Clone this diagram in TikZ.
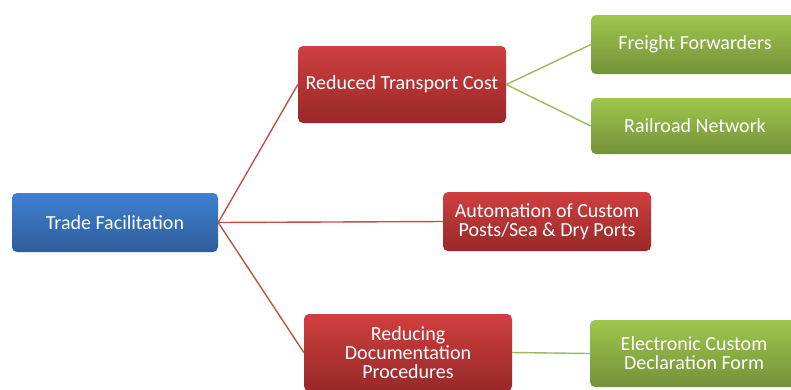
\documentclass[tikz,border=0pt]{standalone}
\usepackage{fontspec}
\setmainfont{Carlito}
\definecolor{bluetop}{HTML}{3F80D0}
\definecolor{bluebot}{HTML}{2D5D9B}
\definecolor{redtop}{HTML}{D03F3F}
\definecolor{redbot}{HTML}{982828}
\definecolor{greentop}{HTML}{9EC74C}
\definecolor{greenbot}{HTML}{74913A}
\definecolor{redline}{HTML}{C0504D}
\definecolor{greenline}{HTML}{9BBB59}
\tikzset{
  box/.style={rectangle, rounded corners=5pt, text=white, align=center,
    font=\fontsize{20}{19.2}\selectfont, inner sep=2pt, draw=none},
  bluebox/.style={box, top color=bluetop, bottom color=bluebot},
  redbox/.style={box, top color=redtop, bottom color=redbot},
  greenbox/.style={box, top color=greentop, bottom color=greenbot},
  redlink/.style={draw=redline, line width=1.4pt},
  greenlink/.style={draw=greenline, line width=1.4pt},
}
\begin{document}
\begin{tikzpicture}[x=1pt,y=-1pt]
\useasboundingbox (0,0) rectangle (791,389);
\clip (0,0) rectangle (791,389);
\fill[white] (0,0) rectangle (791,389);
\node[bluebox, minimum width=206pt, minimum height=59pt] (tf) at (115,222.5) {Trade Facilitation};
\node[redbox, minimum width=208pt, minimum height=77pt] (rtc) at (402,84.5) {Reduced Transport Cost};
\node[redbox, minimum width=208pt, minimum height=59pt] (auto) at (547,221.5) {Automation of Custom\\Posts/Sea \& Dry Ports};
\node[redbox, minimum width=208pt, minimum height=77pt] (rdp) at (408,352.5) {Reducing\\Documentation\\Procedures};
\node[greenbox, minimum width=208pt, minimum height=59pt] (ff) at (695,44.5) {Freight Forwarders};
\node[greenbox, minimum width=208pt, minimum height=56pt] (rn) at (695,126) {Railroad Network};
\node[greenbox, minimum width=208pt, minimum height=67pt] (ecd) at (694,353.5) {Electronic Custom\\Declaration Form};
\draw[redlink] (tf.east) -- (rtc.west);
\draw[redlink] (tf.east) -- (auto.west);
\draw[redlink] (tf.east) -- (rdp.west);
\draw[greenlink] (rtc.east) -- (ff.west);
\draw[greenlink] (rtc.east) -- (rn.west);
\draw[greenlink] (rdp.east) -- (ecd.west);
\end{tikzpicture}
\end{document}
